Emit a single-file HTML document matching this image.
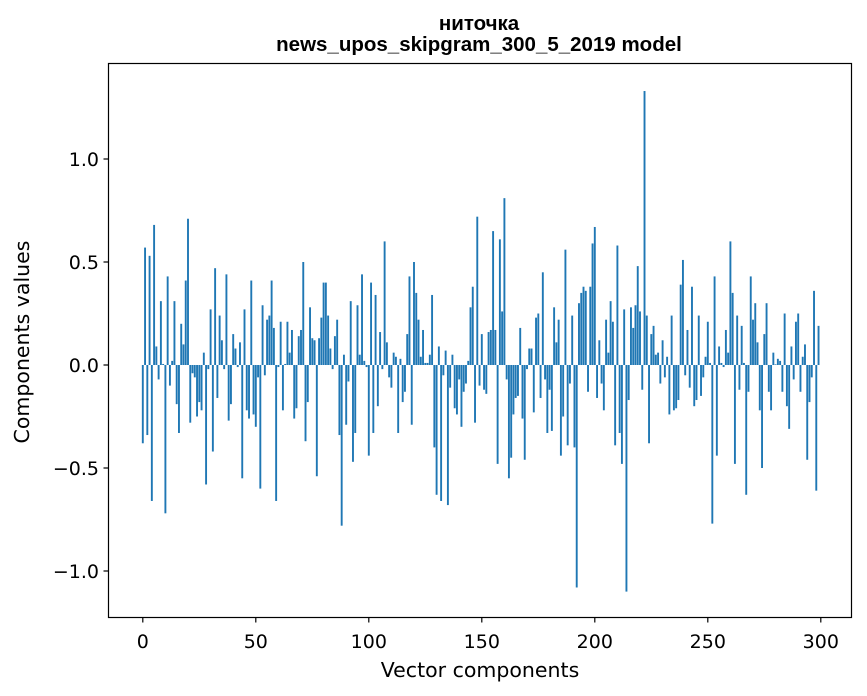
<!DOCTYPE html>
<html><head><meta charset="utf-8"><style>
html,body{margin:0;padding:0;background:#fff;}
svg{display:block;font-family:"DejaVu Sans","Liberation Sans",sans-serif;}
</style></head><body>
<svg id="s" width="867" height="696" viewBox="0 0 867 696" xmlns="http://www.w3.org/2000/svg">
<rect width="867" height="696" fill="#fff"/>
<text x="479" y="30" text-anchor="middle" font-size="20.5" font-weight="bold" fill="#000" font-family="Liberation Sans, sans-serif">ниточка</text>
<text x="479" y="51" text-anchor="middle" font-size="20.5" font-weight="bold" fill="#000" font-family="Liberation Sans, sans-serif">news_upos_skipgram_300_5_2019 model</text>
<g id="bars" fill="#1f77b4"></g>
<rect x="108.5" y="63.5" width="743" height="554" fill="none" stroke="#000" stroke-width="1.2"/>
<g id="ticks" stroke="#000" stroke-width="1.2"></g>
<g id="labels" font-size="19" fill="#000"></g>
<text x="480" y="677" text-anchor="middle" font-size="20.5" fill="#000">Vector components</text>
<text transform="translate(29,342) rotate(-90)" text-anchor="middle" font-size="20.5" fill="#000">Components values</text>
</svg>
<script>
var v=[-0.38,0.57,-0.34,0.53,-0.66,0.68,0.09,-0.07,0.31,0.005,-0.72,0.43,-0.10,0.02,0.31,-0.19,-0.33,0.2,0.1,0.41,0.71,-0.28,-0.04,-0.06,-0.25,-0.18,-0.22,0.06,-0.58,-0.02,0.27,-0.42,0.47,-0.16,0.24,0.12,-0.02,0.44,-0.27,-0.19,0.15,0.08,-0.01,0.11,-0.55,0.27,-0.22,-0.26,0.41,-0.24,
-0.30,-0.06,-0.6,0.29,-0.05,0.22,0.24,0.41,0.18,-0.66,-0.01,0.21,-0.22,0.005,0.21,0.06,0.17,-0.26,-0.21,0.14,0.17,0.5,-0.37,-0.18,0.28,0.13,0.12,-0.54,0.13,0.23,0.40,0.40,0.24,0.08,-0.02,0.14,0.22,-0.34,-0.78,0.05,-0.29,-0.08,0.31,-0.47,-0.33,0.29,0.05,0.44,0.02,-0.01,
-0.44,0.40,-0.33,0.34,-0.2,0.16,-0.02,0.6,0.11,-0.06,-0.11,0.06,0.04,-0.33,0.03,-0.18,-0.13,0.15,0.43,-0.29,0.5,0.35,0.22,0.04,0.17,0.01,0.01,0.05,0.34,-0.40,-0.63,0.09,-0.66,-0.05,0.07,-0.68,-0.11,0.05,-0.21,-0.24,-0.07,-0.30,-0.13,-0.09,0.02,0.28,0.38,-0.28,0.72,-0.10,
0.15,-0.12,-0.14,0.16,0.17,0.65,0.17,-0.48,0.61,0.26,0.81,-0.07,-0.55,-0.45,-0.24,-0.16,-0.15,0.18,-0.26,-0.46,-0.02,0.08,0.08,-0.23,0.23,0.25,-0.16,0.45,-0.07,-0.33,-0.12,-0.32,0.28,0.11,0.22,-0.44,-0.25,0.56,-0.39,-0.09,0.24,-0.40,-1.08,0.30,0.35,0.38,0.36,-0.13,0.38,0.59,
0.67,-0.16,0.12,-0.09,-0.22,0.22,0.06,0.31,0.21,-0.39,0.58,-0.33,-0.48,0.27,-1.1,-0.17,0.28,0.18,0.29,0.48,0.26,-0.12,1.33,0.24,-0.38,0.15,0.19,0.05,0.06,-0.09,0.12,-0.06,0.04,-0.24,0.24,-0.22,-0.21,-0.17,0.39,0.51,-0.05,0.17,-0.11,0.38,-0.20,-0.17,0.24,-0.15,-0.06,0.04,
0.21,0.01,-0.77,0.43,-0.44,0.09,0.01,-0.01,0.17,0.06,0.60,0.35,-0.48,0.24,-0.12,0.19,0.01,-0.63,-0.13,0.43,0.22,0.30,0.11,-0.22,-0.50,0.15,0.30,-0.13,-0.22,0.06,0.003,0.03,0.02,-0.13,0.25,-0.20,-0.31,0.09,-0.07,0.21,0.25,-0.13,0.04,0.10,-0.46,-0.18,-0.06,0.36,-0.61,0.19];
var Z=365,U=206,X0=142.8,DX=2.26,ns="http://www.w3.org/2000/svg";
var g=document.getElementById("bars");
for(var i=0;i<v.length;i++){var r=document.createElementNS(ns,"rect");var h=v[i]*U;
r.setAttribute("x",(X0+DX*i-0.95).toFixed(2));r.setAttribute("width","1.9");
r.setAttribute("y",(h>0?Z-h:Z).toFixed(2));r.setAttribute("height",Math.max(Math.abs(h),0.3).toFixed(2));g.appendChild(r);}
var t=document.getElementById("ticks"),L=document.getElementById("labels");
function ln(a,b,c,d){var l=document.createElementNS(ns,"line");l.setAttribute("x1",a);l.setAttribute("y1",b);l.setAttribute("x2",c);l.setAttribute("y2",d);t.appendChild(l);}
function tx(x,y,s,a){var e=document.createElementNS(ns,"text");e.setAttribute("x",x);e.setAttribute("y",y);e.setAttribute("text-anchor",a);e.textContent=s;L.appendChild(e);}
for(var k=0;k<=300;k+=50){var x=X0+DX*k;ln(x,617.5,x,622.5);tx(x,648,String(k),"middle");}
[[1,"1.0"],[0.5,"0.5"],[0,"0.0"],[-0.5,"\u22120.5"],[-1,"\u22121.0"]].forEach(function(p){var y=Z-p[0]*U;ln(103.5,y,108.5,y);tx(99,y+7,p[1],"end");});
</script>
</body></html>
